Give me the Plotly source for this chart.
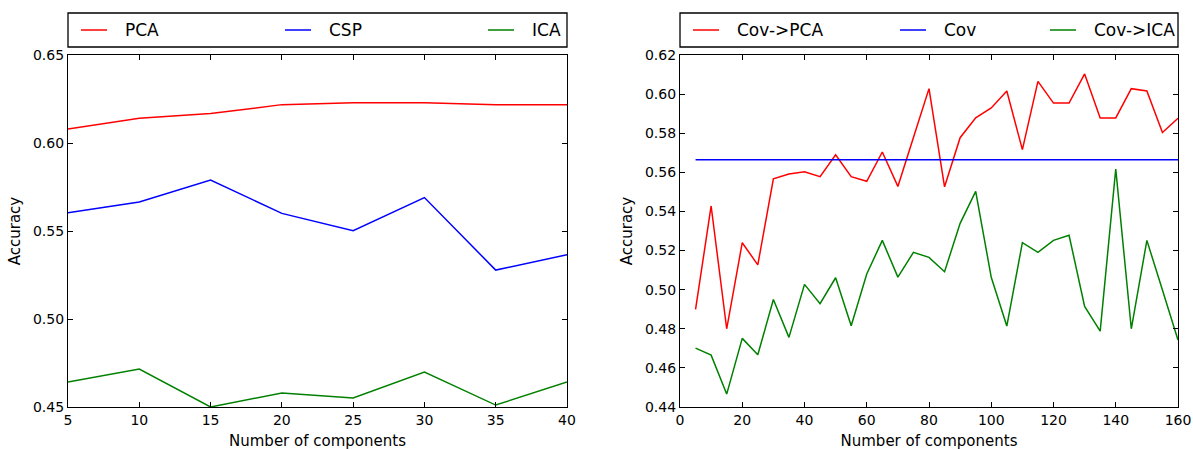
import plotly.graph_objects as go

# ---- data ----
left_x = [5, 10, 15, 20, 25, 30, 35, 40]
pca = [0.6080, 0.6140, 0.6167, 0.6218, 0.6229, 0.6229, 0.6218, 0.6218]
csp = [0.5604, 0.5665, 0.5790, 0.5600, 0.5502, 0.5690, 0.5278, 0.5365]
ica = [0.4642, 0.4716, 0.4500, 0.4580, 0.4551, 0.4699, 0.4511, 0.4642]

right_x = list(range(5, 165, 5))
cov_pca = [0.4899, 0.5428, 0.4800, 0.5240, 0.5127, 0.5567, 0.5591, 0.5603,
           0.5578, 0.5690, 0.5578, 0.5554, 0.5704, 0.5528, 0.5778, 0.6028,
           0.5526, 0.5777, 0.5879, 0.5929, 0.6016, 0.5716, 0.6065, 0.5954,
           0.5954, 0.6103, 0.5878, 0.5878, 0.6028, 0.6016, 0.5804, 0.5876]
cov_val = 0.5664
cov = [cov_val] * len(right_x)
cov_ica = [0.4701, 0.4665, 0.4466, 0.4751, 0.4667, 0.4950, 0.4756, 0.5027,
           0.4928, 0.5061, 0.4815, 0.5080, 0.5252, 0.5064, 0.5191, 0.5165,
           0.5092, 0.5339, 0.5503, 0.5063, 0.4814, 0.5240, 0.5191, 0.5252,
           0.5278, 0.4914, 0.4788, 0.5617, 0.4800, 0.5252, 0.4998, 0.4742]

left_names = ["PCA", "CSP", "ICA"]
right_names = ["Cov->PCA", "Cov", "Cov->ICA"]

RED, BLUE, GREEN = "#ff0000", "#0000ff", "#008000"
W, H = 1193, 450
FONT = "DejaVu Sans"
LW = 1.5

fig = go.Figure()

def add(x, y, name, color, xa, ya):
    fig.add_trace(go.Scatter(x=x, y=y, mode="lines", name=name,
                             line=dict(color=color, width=LW),
                             xaxis=xa, yaxis=ya, showlegend=False))

add(left_x, pca, left_names[0], RED, "x", "y")
add(left_x, csp, left_names[1], BLUE, "x", "y")
add(left_x, ica, left_names[2], GREEN, "x", "y")
add(right_x, cov_pca, right_names[0], RED, "x2", "y2")
add(right_x, cov, right_names[1], BLUE, "x2", "y2")
add(right_x, cov_ica, right_names[2], GREEN, "x2", "y2")

ydom = [43 / H, 395 / H]
axcommon = dict(showline=True, linecolor="black", linewidth=1.3, mirror="ticks",
                ticks="inside", ticklen=5, tickcolor="black", tickwidth=1,
                showgrid=False, zeroline=False, automargin=False,
                tickfont=dict(family=FONT, size=14, color="black"))
tfont = dict(family=FONT, size=15, color="black")

fig.update_layout(
    width=W, height=H, margin=dict(l=0, r=0, t=0, b=0, autoexpand=False),
    paper_bgcolor="white", plot_bgcolor="white", showlegend=False,
    font=dict(family=FONT, color="black"),
    xaxis=dict(domain=[68 / W, 567 / W], range=[5, 40], dtick=5, anchor="y",
               title=dict(text="Number of components", font=tfont, standoff=15), **axcommon),
    yaxis=dict(domain=ydom, range=[0.45, 0.65], dtick=0.05, tickformat=".2f",
               anchor="x", title=dict(text="Accuracy", font=tfont, standoff=8), **axcommon),
    xaxis2=dict(domain=[680 / W, 1178 / W], range=[0, 160], dtick=20, anchor="y2",
                title=dict(text="Number of components", font=tfont, standoff=15), **axcommon),
    yaxis2=dict(domain=ydom, range=[0.44, 0.62], dtick=0.02, tickformat=".2f",
                anchor="x2", title=dict(text="Accuracy", font=tfont, standoff=8), **axcommon),
)

# legend boxes drawn like matplotlib's expanded legend
line_starts = [81, 285, 488, 693, 900, 1050]
colors = [RED, BLUE, GREEN, RED, BLUE, GREEN]
names = left_names + right_names
ly = (H - 30) / H
for x0, x1 in [(68, 567), (680, 1178)]:
    fig.add_shape(type="rect", xref="paper", yref="paper",
                  x0=x0 / W, x1=x1 / W, y0=(H - 47) / H, y1=(H - 13) / H,
                  line=dict(color="black", width=1.3), fillcolor="rgba(0,0,0,0)")
for ls, c, n in zip(line_starts, colors, names):
    fig.add_shape(type="line", xref="paper", yref="paper",
                  x0=ls / W, x1=(ls + 26) / W, y0=ly, y1=ly,
                  line=dict(color=c, width=LW))
    fig.add_annotation(xref="paper", yref="paper", x=(ls + 42) / W, y=ly,
                       xanchor="left", yanchor="middle", showarrow=False,
                       text=n, font=dict(family=FONT, size=17, color="black"))

fig.write_html("out.html")
